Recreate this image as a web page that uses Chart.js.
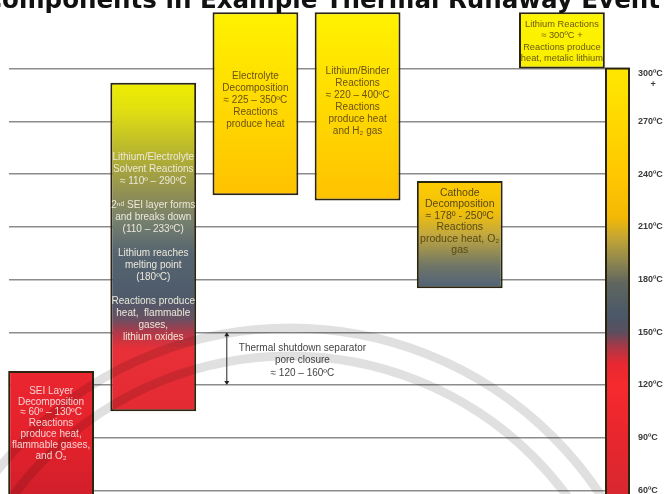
<!DOCTYPE html>
<html>
<head>
<meta charset="utf-8">
<script src="https://cdn.jsdelivr.net/npm/chart.js@4.4.1/dist/chart.umd.min.js"></script>
<style>
  body { margin: 0; background: #fff; }
  #wrap { width: 668px; height: 494px; position: relative; }
</style>
</head>
<body>
<div id="wrap"><canvas id="runaway"></canvas></div>
<script>
// components of the thermal runaway event, temperatures in degC
const components = ['SEI Layer', 'Lithium/Electrolyte', 'Electrolyte Decomposition', 'Lithium/Binder', 'Cathode Decomposition', 'Lithium Reactions']
const lowTemps = [50, 105, 228, 225, 175, 300]
const highTemps = [128, 292, 332, 332, 236, 332]
const tickTemps = [60, 90, 120, 150, 180, 210, 240, 270, 300]
const shutdownRange = [120, 150]
const shutdownNote = ['Thermal shutdown separator', 'pore closure', '\u2248 120 \u2013 160\u00baC']
const titleText = 'Components in Example Thermal Runaway Event'
const boxNotes = [
  ['SEI Layer', 'Decomposition', '\u2248 60\u00ba \u2013 130\u00baC', 'Reactions', 'produce heat,', 'flammable gases,', 'and O\u2082'],
  ['Lithium/Electrolyte', 'Solvent Reactions', '\u2248 110\u00ba \u2013 290\u00baC', '', '2\u207f\u1d48 SEI layer forms', 'and breaks down', '(110 \u2013 233\u00baC)', '',
   'Lithium reaches', 'melting point', '(180\u00baC)', '', 'Reactions produce', 'heat,  flammable', 'gases,', 'lithium oxides'],
  ['Electrolyte', 'Decomposition', '\u2248 225 \u2013 350\u00baC', 'Reactions', 'produce heat'],
  ['Lithium/Binder', 'Reactions', '\u2248 220 \u2013 400\u00baC', 'Reactions', 'produce heat', 'and H\u2082 gas'],
  ['Cathode', 'Decomposition', '\u2248 178\u00ba - 250\u00baC', 'Reactions', 'produce heat, O\u2082', 'gas'],
  ['Lithium Reactions', '\u2248 300\u00baC +', 'Reactions produce', 'heat, metalic lithium']
]

// look of each box: gradient stops (0 = top, 1 = bottom), text colour, font size, line height, text shift
const boxLook = [
  { stops: [[0, '#ea2630'], [0.5, '#e4222c'], [1, '#cc1e2a']], text: '#f7d2d2', size: 10, lh: 10.8, shift: -9 },
  { stops: [[0, '#eeee00'], [0.08, '#e2e010'], [0.24, '#aeac36'], [0.35, '#8c8c58'], [0.42, '#76806e'], [0.52, '#566470'],
            [0.66, '#4e5a6a'], [0.72, '#6a5062'], [0.76, '#b03848'], [0.81, '#e83038'], [1, '#e42a32']], text: '#ece8da', size: 10, lh: 12, shift: 0 },
  { stops: [[0, '#fff200'], [0.45, '#ffdc00'], [1, '#ffc200']], text: '#6b5312', size: 10, lh: 12, shift: -3 },
  { stops: [[0, '#fff200'], [0.45, '#ffdc00'], [1, '#ffc200']], text: '#6b5312', size: 10, lh: 12, shift: -5 },
  { stops: [[0, '#ffcc00'], [0.3, '#eebe0c'], [0.5, '#c2a840'], [0.64, '#9a9050'], [0.8, '#6e7468'], [1, '#4e6278']], text: '#5a4a14', size: 10.5, lh: 11.5, shift: -13 },
  { stops: [[0, '#fff400'], [1, '#f8ee00']], text: '#6b5a10', size: 9.3, lh: 11.5, shift: 1 }
]

// colour ramp of the temperature bar at the right (temperature, colour)
const rampStops = [[339, '#ffef00'], [300, '#ffe800'], [270, '#ffd800'], [240, '#ffc800'], [215, '#f2b806'], [205, '#c8a830'],
  [190, '#8e8650'], [178, '#60665e'], [160, '#4a5868'], [150, '#5a4e5e'], [142, '#a83848'], [132, '#e82832'],
  [120, '#f52a2e'], [90, '#e8262e'], [58, '#d82830']]

const FONT = '"Liberation Sans", Arial, sans-serif'

function boxFill(c) {
  const chart = c.chart
  const ys = chart.scales.y
  const look = boxLook[c.dataIndex]
  if (!ys || !chart.chartArea || !c.raw) return look.stops[0][1]
  const top = ys.getPixelForValue(c.raw[1])
  const bot = ys.getPixelForValue(c.raw[0])
  const g = chart.ctx.createLinearGradient(0, top, 0, bot)
  look.stops.forEach(s => g.addColorStop(s[0], s[1]))
  return g
}

const decor = {
  id: 'decor',
  beforeDatasetsDraw(chart) {
    // grid lines of the slide start a little in from the left edge
    const a = chart.chartArea
    chart.ctx.save()
    chart.ctx.fillStyle = '#fff'
    chart.ctx.fillRect(a.left, a.top, 9, a.bottom - a.top)
    chart.ctx.restore()
  },
  afterDatasetsDraw(chart) {
    const ctx = chart.ctx
    const ys = chart.scales.y
    const xs = chart.scales.x
    const area = chart.chartArea
    const meta = chart.getDatasetMeta(0)

    // temperature colour bar
    const cbLeft = area.right - 7, cbW = 23
    const cbTop = ys.getPixelForValue(300)
    const cbBot = chart.height + 4
    const g = ctx.createLinearGradient(0, ys.getPixelForValue(339), 0, ys.getPixelForValue(58))
    rampStops.forEach(s => g.addColorStop((339 - s[0]) / (339 - 58), s[1]))
    ctx.save()
    ctx.fillStyle = g
    ctx.fillRect(cbLeft, cbTop, cbW, cbBot - cbTop)
    ctx.strokeStyle = '#2b2510'
    ctx.lineWidth = 2
    ctx.strokeRect(cbLeft, cbTop, cbW, cbBot - cbTop)
    ctx.restore()

    // faint watermark arcs of the source slide
    ctx.save()
    ctx.strokeStyle = 'rgba(0,0,0,0.12)'
    ctx.lineWidth = 9
    ;[372, 344].forEach(r => {
      ctx.beginPath()
      ctx.arc(290, 700, r, Math.PI, 2 * Math.PI)
      ctx.stroke()
    })
    ctx.restore()

    // notes in the boxes
    ctx.save()
    ctx.textAlign = 'center'
    ctx.textBaseline = 'middle'
    meta.data.forEach((bar, i) => {
      const look = boxLook[i]
      const lines = boxNotes[i]
      const t = Math.max(bar.y, area.top)
      const b = Math.min(bar.base, area.bottom)
      const mid = (t + b) / 2 + look.shift
      ctx.font = look.size + 'px ' + FONT
      ctx.fillStyle = look.text
      lines.forEach((ln, k) => {
        ctx.fillText(ln, bar.x, mid + (k - (lines.length - 1) / 2) * look.lh)
      })
    })
    ctx.restore()

    // separator shutdown arrow and note
    const step = xs.getPixelForValue(2) - xs.getPixelForValue(1)
    const ax = xs.getPixelForValue(1) + 0.72 * step
    const aTop = ys.getPixelForValue(shutdownRange[1])
    const aBot = ys.getPixelForValue(shutdownRange[0])
    ctx.save()
    ctx.strokeStyle = '#222'
    ctx.fillStyle = '#222'
    ctx.lineWidth = 1
    ctx.beginPath()
    ctx.moveTo(ax, aTop + 3)
    ctx.lineTo(ax, aBot - 3)
    ctx.stroke()
    ctx.beginPath()
    ctx.moveTo(ax, aTop); ctx.lineTo(ax - 2.5, aTop + 4); ctx.lineTo(ax + 2.5, aTop + 4); ctx.closePath()
    ctx.moveTo(ax, aBot); ctx.lineTo(ax - 2.5, aBot - 4); ctx.lineTo(ax + 2.5, aBot - 4); ctx.closePath()
    ctx.fill()
    ctx.font = '10px ' + FONT
    ctx.fillStyle = '#444'
    ctx.textAlign = 'center'
    ctx.textBaseline = 'middle'
    const tx = xs.getPixelForValue(1) + 1.46 * step
    const tm = (aTop + aBot) / 2 + 2
    shutdownNote.forEach((ln, k) => ctx.fillText(ln, tx, tm + (k - 1) * 12.5))
    ctx.restore()

    // title, cut off at the top like the original slide
    ctx.save()
    ctx.font = 'bold 24px "DejaVu Sans", sans-serif'
    const w = ctx.measureText(titleText.slice(1)).width
    const size = 24 * 658 / w
    ctx.font = 'bold ' + size.toFixed(2) + 'px "DejaVu Sans", sans-serif'
    ctx.fillStyle = '#111'
    ctx.textAlign = 'right'
    ctx.textBaseline = 'alphabetic'
    ctx.fillText(titleText, 660, 7.5)
    ctx.restore()
  }
}

new Chart(document.getElementById('runaway'), {
  type: 'bar',
  data: {
    labels: components,
    datasets: [{
      data: lowTemps.map((lo, i) => [lo, highTemps[i]]),
      backgroundColor: boxFill,
      borderColor: '#2b2510',
      borderWidth: 2,
      borderSkipped: false,
      barPercentage: 0.84,
      categoryPercentage: 1
    }]
  },
  options: {
    responsive: true,
    maintainAspectRatio: false,
    animation: false,
    layout: { padding: 0 },
    plugins: { legend: { display: false }, tooltip: { enabled: false }, title: { display: false } },
    scales: {
      x: { display: false, offset: true },
      y: {
        position: 'right',
        min: 58,
        max: 339,
        afterBuildTicks: s => { s.ticks = tickTemps.map(v => ({ value: v })) },
        afterFit: s => { s.width = 55; s.paddingTop = 0; s.paddingBottom = 0 },
        border: { display: false },
        grid: { color: '#8c8c8c', lineWidth: 1.5, drawTicks: false },
        ticks: {
          padding: 25,
          color: '#3a3a3a',
          font: { family: FONT, size: 9, weight: 'bold' },
          callback: v => v === 300 ? ['', '', '300\u00baC', '     +'] : v + '\u00baC'
        }
      }
    }
  },
  plugins: [decor]
})
</script>
</body>
</html>
